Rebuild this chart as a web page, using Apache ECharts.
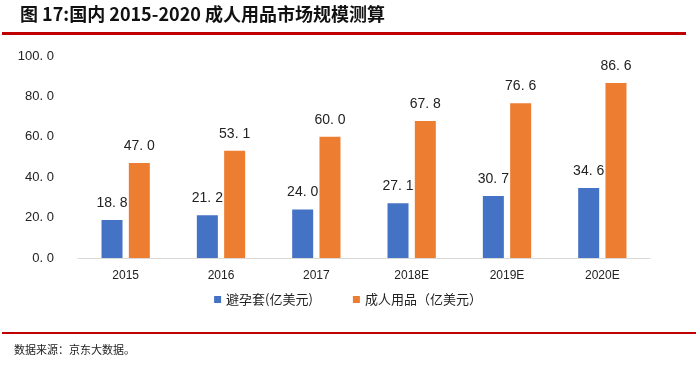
<!DOCTYPE html>
<html><head><meta charset="utf-8">
<script src="https://cdn.jsdelivr.net/npm/echarts@6/dist/echarts.min.js"></script>
<style>html,body{margin:0;padding:0;background:#fff}#c{width:696px;height:367px}</style>
</head><body><div id="c"></div>
<script>
const categories = ['2015','2016','2017','2018E','2019E','2020E'];
const condoms = [18.8,21.2,24.0,27.1,30.7,34.6];
const adultProducts = [47.0,53.1,60.0,67.8,76.6,86.6];
const seriesNames = ['避孕套(亿美元)','成人用品（亿美元）'];
const yTicks = {min:0,max:100,interval:20};

const chart = echarts.init(document.getElementById('c'));
const fmt = v => v.toFixed(1).replace('.', '. ');
const font = '"Noto Sans CJK SC", "Liberation Sans", Arial, sans-serif';
const numFont = '"Liberation Sans", Arial, sans-serif';
chart.setOption({
  animation:false,
  textStyle:{fontFamily:font},
  grid:{left:78,right:46,top:56,bottom:109},
  legend:{
    data:seriesNames, top:288, left:'center', itemWidth:7, itemHeight:7, itemGap:40,
    icon:'rect', textStyle:{fontSize:13,color:'#222',fontFamily:font}
  },
  xAxis:{type:'category',data:categories,
    axisLine:{lineStyle:{color:'#d9d9d9',width:1}},axisTick:{show:false},
    axisLabel:{color:'#222',fontSize:12,margin:12,fontFamily:numFont}},
  yAxis:{type:'value',min:yTicks.min,max:yTicks.max,interval:yTicks.interval,
    splitLine:{show:false},axisLine:{show:false},axisTick:{show:false},
    axisLabel:{color:'#222',fontSize:13,margin:24,formatter:fmt,fontFamily:numFont}},
  series:[
    {name:seriesNames[0],type:'bar',data:condoms,barWidth:21,barGap:'30%',
     itemStyle:{color:'#4472C4'},
     label:{show:true,position:'top',distance:10,color:'#222',fontSize:14,formatter:p=>fmt(p.value),fontFamily:numFont}},
    {name:seriesNames[1],type:'bar',data:adultProducts,barWidth:21,
     itemStyle:{color:'#ED7D31'},
     label:{show:true,position:'top',distance:10,color:'#222',fontSize:14,formatter:p=>fmt(p.value),fontFamily:numFont}}
  ],
  graphic:[
    {type:'text',left:20,top:5,style:{text:'图 17:国内 2015-2020 成人用品市场规模测算',font:'bold 18px '+font,fill:'#111'}},
    {type:'rect',shape:{x:2,y:32,width:684,height:3},style:{fill:'#C00000'}},
    {type:'rect',shape:{x:2,y:332,width:694,height:2},style:{fill:'#C00000'}},
    {type:'text',left:14,top:344,style:{text:'数据来源：京东大数据。',font:'11px '+font,fill:'#222'}}
  ]
});
</script></body></html>
